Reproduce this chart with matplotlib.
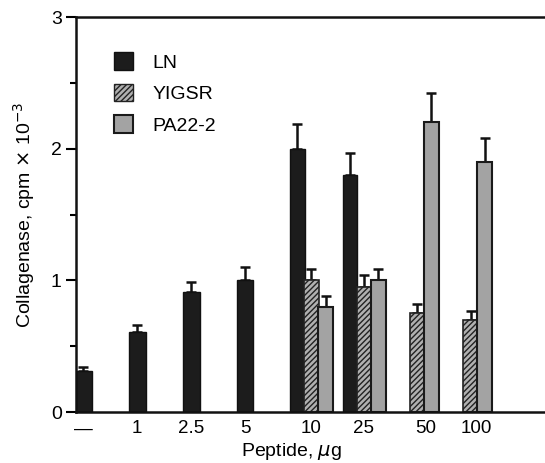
import numpy as np
import matplotlib
matplotlib.use("Agg")
import matplotlib.pyplot as plt
from matplotlib.patches import Patch

plt.rcParams['font.family'] = ['Liberation Sans', 'DejaVu Sans']
plt.rcParams['hatch.linewidth'] = 1.0

# ---- data ----
categories = ['\u2014', '1', '2.5', '5', '10', '25', '50', '100']
ln = [0.31, 0.61, 0.91, 1.00, 2.00, 1.80, np.nan, np.nan]
ln_err = [0.03, 0.05, 0.075, 0.10, 0.19, 0.17, np.nan, np.nan]
yigsr = [np.nan, np.nan, np.nan, np.nan, 1.00, 0.95, 0.75, 0.70]
yigsr_err = [np.nan, np.nan, np.nan, np.nan, 0.09, 0.09, 0.07, 0.07]
pa = [np.nan, np.nan, np.nan, np.nan, 0.80, 1.00, 2.20, 1.90]
pa_err = [np.nan, np.nan, np.nan, np.nan, 0.08, 0.09, 0.22, 0.18]

# ---- layout ----
group_x = np.array([0, 1, 2, 3, 4.23, 5.21, 6.19, 7.18])
tick_x = np.array([0, 1, 2, 3, 4.23, 5.20, 6.34, 7.29])
single_w = 0.31
w = 0.27
off = 0.262

fig = plt.figure(figsize=(5.45, 4.63), dpi=100)
ax = fig.add_axes([0.139, 0.110, 0.861, 0.853])

ln = np.array(ln); ln_err = np.array(ln_err)
yigsr = np.array(yigsr); yigsr_err = np.array(yigsr_err)
pa = np.array(pa); pa_err = np.array(pa_err)

has_group = ~np.isnan(yigsr)
ln_x = np.where(has_group, group_x - off, group_x)
ln_w = np.where(has_group, w, single_w)

ek = dict(ecolor='#111111', elinewidth=1.8, capsize=3.5, capthick=1.8)

m = ~np.isnan(ln)
ax.bar(ln_x[m], ln[m], width=ln_w[m], color='#1c1c1c', edgecolor='#111111', linewidth=1.0, zorder=2)
ax.errorbar(ln_x[m], ln[m], yerr=[np.zeros(m.sum()), ln_err[m]], fmt='none', zorder=1, **ek)

m = has_group
ax.bar(group_x[m], yigsr[m], width=w, color='#b0b0b0', edgecolor='#222222', hatch='//////', linewidth=1.2, zorder=2)
ax.errorbar(group_x[m], yigsr[m], yerr=[np.zeros(m.sum()), yigsr_err[m]], fmt='none', zorder=1, **ek)

m = ~np.isnan(pa)
ax.bar(group_x[m] + off, pa[m], width=w, color='#a3a3a3', edgecolor='#1a1a1a', linewidth=1.5, zorder=2)
ax.errorbar(group_x[m] + off, pa[m], yerr=[np.zeros(m.sum()), pa_err[m]], fmt='none', zorder=1, **ek)

ax.set_xlim(-0.14, 8.56)
ax.set_ylim(0, 3)
ax.set_xticks(tick_x)
ax.set_xticklabels(categories, fontsize=13.5)
ax.tick_params(axis='x', length=0, pad=6)
ax.set_yticks([0, 1, 2, 3])
ax.set_yticks([0.5, 1.5, 2.5], minor=True)
ax.tick_params(axis='y', which='major', length=7, width=1.5, labelsize=14, pad=3)
ax.tick_params(axis='y', which='minor', length=4, width=1.5)

for s in ['left', 'top', 'bottom']:
    ax.spines[s].set_linewidth(1.8)
    ax.spines[s].set_color('#111111')
ax.spines['right'].set_visible(False)

ax.set_ylabel('Collagenase, cpm $\\times$ 10$^{-3}$', fontsize=14, labelpad=10)
ax.set_xlabel('Peptide, $\\mu$g', fontsize=14)
ax.xaxis.set_label_coords(0.46, -0.073)

handles = [Patch(facecolor='#1c1c1c', edgecolor='#111111'),
           Patch(facecolor='#b0b0b0', edgecolor='#222222', hatch='//////'),
           Patch(facecolor='#a3a3a3', edgecolor='#1a1a1a', linewidth=1.5)]
ax.legend(handles, ['LN', 'YIGSR', 'PA22-2'], loc='upper left', bbox_to_anchor=(0.045, 0.955),
          frameon=False, fontsize=14, handlelength=0.95, handleheight=1.0, handletextpad=1.0,
          labelspacing=0.62)

fig.savefig('out.png', dpi=100)
